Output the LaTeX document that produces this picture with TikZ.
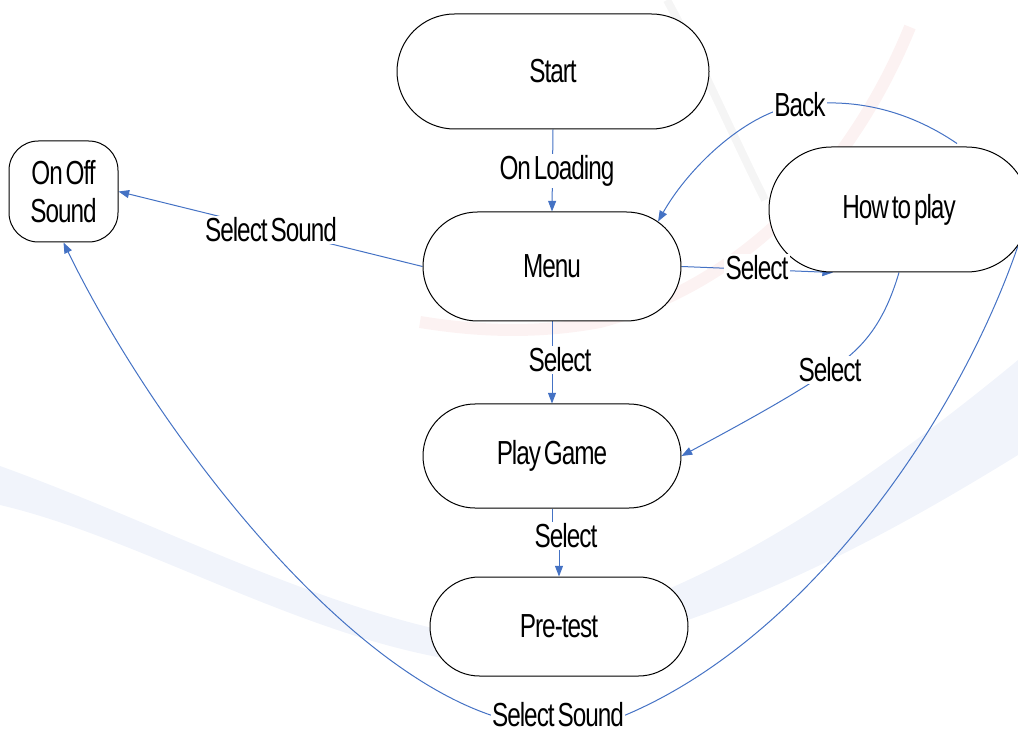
\documentclass[tikz,border=0pt]{standalone}
\usepackage{fontspec}
\setmainfont{Liberation Sans}[FakeStretch=0.73,LetterSpace=-3,WordSpace=0.5]
\usetikzlibrary{shapes.misc,arrows.meta,calc}
\pgfdeclarelayer{wm}
\pgfdeclarelayer{edges}
\pgfsetlayers{wm,edges,main}
\definecolor{linkblue}{RGB}{68,114,196}
\definecolor{wmblue}{RGB}{241,244,251}
\definecolor{wmred}{RGB}{252,242,242}
\definecolor{wmgrey}{RGB}{245,245,245}
\newcommand{\statefont}{\fontsize{25}{28}\selectfont}
\tikzset{
  state/.style={rounded rectangle, draw=black, line width=0.75pt, fill=white,
    inner sep=0pt, font=\statefont},
  soundbox/.style={rectangle, rounded corners=22pt, draw=black, line width=0.75pt,
    fill=white, inner sep=0pt, align=center, font=\statefont},
  lbl/.style={fill=white, inner sep=1pt, font=\statefont},
  link/.style={draw=linkblue, line width=0.75pt, -{Triangle[length=8pt,width=6pt]}}
}
\begin{document}
\begin{tikzpicture}[x=0.75pt,y=-0.75pt]
\useasboundingbox (0,0) rectangle (1018,734);

% states
\node[state, minimum width=234pt, minimum height=86.25pt] (start) at (553,71.5) {Start};
\node[state, minimum width=193.5pt, minimum height=81.75pt] (menu) at (552,266.5) {Menu};
\node[soundbox, minimum width=81.75pt, minimum height=75.75pt] (sound) at (63.5,191.5) {On Off\\Sound};
\node[state, minimum width=195pt, minimum height=93.75pt] (howto) at (899,209.5) {How to play};
\node[state, minimum width=193.5pt, minimum height=78pt] (play) at (552,456) {Play Game};
\node[state, minimum width=193.5pt, minimum height=74.25pt] (pretest) at (559,626.5) {Pre-test};

% transition labels
\node[lbl] (lload) at (557,171) {On Loading};
\node[lbl] (lplay) at (560,360) {Select};
\node[lbl] (lpre) at (566,536) {Select};
\node[lbl] (lhow) at (757,268) {Select};
\node[lbl] (lback) at (800,105) {Back};
\node[lbl] (lhowplay) at (830,370) {Select};
\node[lbl] (lsound) at (271,230) {Select Sound};
\node[lbl] (lloop) at (558,715) {Select Sound};

% transitions
\begin{pgfonlayer}{edges}
\draw[link] (start.south) -- (menu.north);
\draw[link] (menu.south) -- (play.north);
\draw[link] (play.south) |- (lpre.center) -| (pretest.north);
\draw[link] (menu.east) -- ($(howto.south)+(-66,0)$);
\draw[link] ($(howto.north)+(58,-3)$) .. controls (905,108) and (850,98) .. (lback.center)
  .. controls (750,110) and (690,165) .. (menu.23);
\draw[link] (howto.south) .. controls (885,320) and (865,348) .. (lhowplay.center)
  .. controls (795,395) and (730,430) .. (play.east);
\draw[link] (menu.west) -- (sound.east);
\draw[link] (howto.east) .. controls (975,400) and (815,635) .. (lloop.east)
  -- (lloop.west) .. controls (330,660) and (150,420) .. (sound.south);
\end{pgfonlayer}

% faint background logo
\begin{pgfonlayer}{wm}
\fill[wmblue] (0,466) .. controls (150,520) and (300,600) .. (450,632)
  .. controls (600,650) and (800,540) .. (1018,360) -- (1018,455)
  .. controls (880,540) and (700,640) .. (500,665)
  .. controls (330,655) and (150,540) .. (0,505) -- cycle;
\draw[wmred, line width=9pt] (910,27) .. controls (860,150) and (760,280) .. (600,322)
  .. controls (530,335) and (470,330) .. (420,322);
\draw[wmgrey, line width=6pt] (667,0) .. controls (700,60) and (735,140) .. (765,200);
\end{pgfonlayer}
\end{tikzpicture}
\end{document}
